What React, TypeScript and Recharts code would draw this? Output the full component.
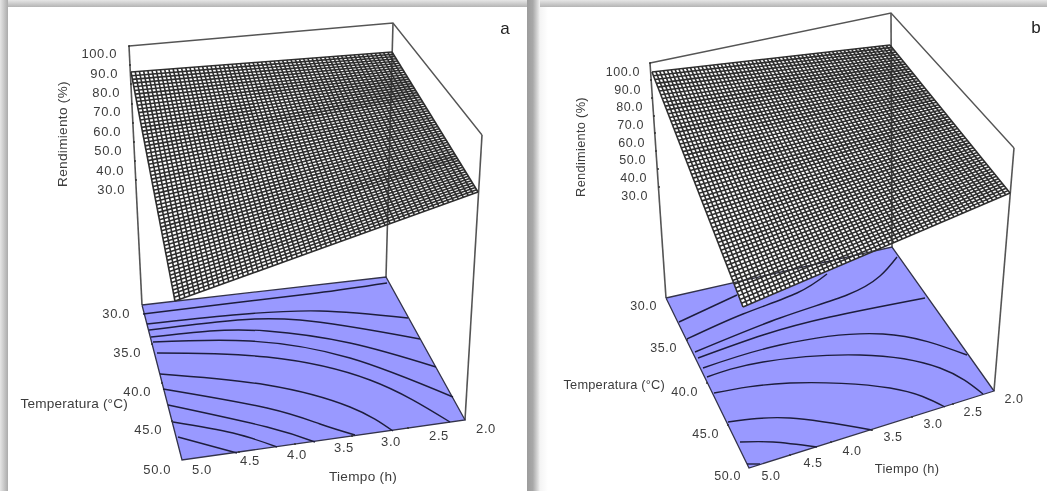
import React from "react";
import { Area, ComposedChart, Line, Scatter, XAxis, YAxis } from "recharts";

const WIDTH = 1047;
const HEIGHT = 491;

type Pt = [number, number];

// chart data is held in picture units: the 3D view is a fixed projection
const boxTopA: Pt[] = [[129, 46], [393, 23], [482, 135]];
const boxVerticalsA: Pt[][] = [
  [[129, 46], [142, 305]],
  [[393, 23], [386, 277]],
  [[482, 135], [465, 420]],
];
const floorA: Pt[] = [[142, 305], [386, 277], [465, 420], [182, 460]];
const surfaceA: Pt[] = [[131, 72], [392, 52], [478, 192], [175, 301]];

const contoursA: Pt[][] = [
  [[143, 314], [233, 303], [317, 293], [387, 283]],
  [[147, 324], [233, 315], [320, 311], [408, 318]],
  [[149, 330], [217, 322], [300, 320], [420, 339]],
  [[151, 337], [210, 331], [267, 331], [350, 343], [436, 367]],
  [[153, 342], [250, 341], [350, 358], [453, 397]],
  [[157, 353], [267, 357], [370, 380], [450, 422]],
  [[160, 374], [267, 385], [350, 407], [393, 431]],
  [[163, 389], [267, 408], [320, 424], [355, 435]],
  [[168, 405], [267, 427], [315, 442]],
  [[173, 422], [233, 433], [277, 447]],
  [[178, 437], [237, 453]],
];

const boxTopB: Pt[] = [[650, 63], [891, 13], [1014, 148]];
const boxVerticalsB: Pt[][] = [
  [[650, 63], [666, 298]],
  [[891, 13], [892, 247]],
  [[1014, 148], [994, 391]],
];
const floorB: Pt[] = [[666, 298], [892, 247], [994, 391], [749, 468]];
const surfaceB: Pt[] = [[652, 72], [890, 45], [1010, 193], [743, 307]];

const contoursB: Pt[][] = [
  [[679, 322], [737, 295]],
  [[687, 339], [743, 314], [797, 293], [827, 274]],
  [[695, 352], [780, 318], [847, 295], [880, 276], [897, 257]],
  [[698, 358], [763, 335], [830, 317], [925, 298]],
  [[703, 368], [780, 345], [883, 334], [967, 355]],
  [[707, 377], [763, 362], [860, 355], [940, 368], [983, 394]],
  [[714, 393], [790, 383], [890, 388], [945, 407]],
  [[728, 422], [790, 418], [872, 430]],
  [[740, 442], [773, 442], [817, 447]],
  [[747, 464], [760, 464]],
];

const zLabels = ["100.0", "90.0", "80.0", "70.0", "60.0", "50.0", "40.0", "30.0"];
const tempLabels = ["30.0", "35.0", "40.0", "45.0", "50.0"];
const timeLabels = ["5.0", "4.5", "4.0", "3.5", "3.0", "2.5", "2.0"];

const zLabelSpotsA: Pt[] = [[117, 53], [118, 73], [120, 92], [121, 111], [121, 131], [122, 150], [124, 170], [125, 189]];
const tempLabelSpotsA: Pt[] = [[130, 313], [141, 352], [151, 391], [162, 429], [171, 469]];
const timeLabelSpotsA: Pt[] = [[202, 469], [250, 460], [297, 454], [344, 447], [391, 441], [439, 435], [486, 428]];

const zLabelSpotsB: Pt[] = [[640, 72], [641, 90], [643, 107], [644, 125], [645, 143], [646, 160], [647, 178], [648, 196]];
const tempLabelSpotsB: Pt[] = [[657, 306], [677, 348], [698, 392], [719, 434], [741, 476]];
const timeLabelSpotsB: Pt[] = [[771, 476], [813, 463], [852, 451], [893, 437], [933, 424], [973, 412], [1014, 399]];

const tickDotsA: Pt[] = [
  [129, 46], [130, 65], [131, 84], [132, 104], [133, 123], [134, 142], [135, 161], [136, 180],
  [152, 344], [162, 383], [172, 421],
  [239, 452], [295, 444], [352, 436], [408, 428],
];
const tickDotsB: Pt[] = [
  [650, 63], [651, 80], [652, 98], [654, 116], [655, 133], [656, 151], [658, 169], [659, 187],
  [687, 340], [707, 383], [728, 425],
  [790, 455], [831, 442], [872, 430], [912, 417], [953, 404],
];

// the wireframe is a regular grid spanned between the surface corners read above,
// the single mesh lines are not read one by one
const MESH_DIVISIONS = 62;

const toRows = (pts: Pt[]) => pts.map(([x, y]) => ({ x, y }));

const mix = (a: Pt, b: Pt, t: number): Pt => [a[0] + (b[0] - a[0]) * t, a[1] + (b[1] - a[1]) * t];

function meshLines([tl, tr, br, bl]: Pt[]): Pt[][] {
  const out: Pt[][] = [];
  for (let i = 0; i <= MESH_DIVISIONS; i++) {
    const t = i / MESH_DIVISIONS;
    out.push([mix(tl, bl, t), mix(tr, br, t)]);
    out.push([mix(tl, tr, t), mix(bl, br, t)]);
  }
  return out;
}

// a polygon as lower/upper bounds at each corner, the form a range Area wants
function polygonBands(poly: Pt[]) {
  const xs = Array.from(new Set(poly.map((p) => p[0]))).sort((a, b) => a - b);
  return xs.map((x) => {
    const ys: number[] = [];
    poly.forEach((p, i) => {
      const q = poly[(i + 1) % poly.length];
      if ((p[0] <= x && x <= q[0]) || (q[0] <= x && x <= p[0])) {
        ys.push(p[0] === q[0] ? p[1] : p[1] + ((q[1] - p[1]) * (x - p[0])) / (q[0] - p[0]));
      }
    });
    return { x, band: [Math.min(...ys), Math.max(...ys)] };
  });
}

const labelRows = (labels: string[], spots: Pt[]) =>
  labels.map((label, i) => ({ x: spots[i][0], y: spots[i][1], label }));

const LABEL_FONT = "'Liberation Sans', Arial, sans-serif";
const TEXT = "#3c3c3c";

const labelShape = (anchor: string, size: number, spacing: number, fill: string, rotate = false) => (p: any) => (
  <text
    x={p.cx}
    y={p.cy}
    textAnchor={anchor as any}
    dominantBaseline="central"
    fontFamily={LABEL_FONT}
    fontSize={size}
    letterSpacing={spacing}
    fill={fill}
    transform={rotate ? `rotate(-90 ${p.cx} ${p.cy})` : undefined}
  >
    {p.payload.label}
  </text>
);

const polyline = (key: string, pts: Pt[], stroke: string, width: number, type: any = "linear") => (
  <Line
    key={key}
    data={toRows(pts)}
    dataKey="y"
    type={type}
    stroke={stroke}
    strokeWidth={width}
    dot={false}
    activeDot={false}
    isAnimationActive={false}
    legendType="none"
  />
);

const polygon = (key: string, poly: Pt[], fill: string) => (
  <Area
    key={key}
    data={polygonBands(poly)}
    dataKey="band"
    type="linear"
    stroke="none"
    fill={fill}
    fillOpacity={1}
    dot={false}
    activeDot={false}
    isAnimationActive={false}
    legendType="none"
  />
);

const labels = (key: string, rows: { x: number; y: number; label: string }[], shape: any) => (
  <Scatter key={key} data={rows} dataKey="y" shape={shape} isAnimationActive={false} legendType="none" />
);

function panel(id: string, p: {
  boxTop: Pt[];
  verticals: Pt[][];
  floor: Pt[];
  surface: Pt[];
  contours: Pt[][];
  ticks: Pt[];
  zSpots: Pt[];
  tempSpots: Pt[];
  timeSpots: Pt[];
  zTitle: Pt;
  tempTitle: Pt;
  timeTitle: Pt;
  letter: string;
  letterAt: Pt;
  tickSize: number;
  titleSize: number;
}) {
  const tick = labelShape("end", p.tickSize, 0.6, TEXT);
  const mid = labelShape("middle", p.tickSize, 0.6, TEXT);
  return [
    polyline(`${id}-top`, p.boxTop, "#555555", 1.4),
    ...p.verticals.map((v, i) => polyline(`${id}-v${i}`, v, "#555555", 1.6)),
    polygon(`${id}-floor`, p.floor, "#9999ff"),
    polyline(`${id}-floor-line`, [...p.floor, p.floor[0]], "#33334a", 1.3),
    ...p.contours.map((c, i) => polyline(`${id}-c${i}`, c, "#1d1d3c", 1.4, "natural")),
    polygon(`${id}-surface`, p.surface, "#ffffff"),
    ...meshLines(p.surface).map((m, i) => polyline(`${id}-m${i}`, m, "#2e2e2e", 1.6)),
    <Scatter
      key={`${id}-ticks`}
      data={toRows(p.ticks)}
      dataKey="y"
      shape={(d: any) => <circle cx={d.cx} cy={d.cy} r={1} fill="#333333" />}
      isAnimationActive={false}
      legendType="none"
    />,
    labels(`${id}-z`, labelRows(zLabels, p.zSpots), tick),
    labels(`${id}-temp`, labelRows(tempLabels, p.tempSpots), tick),
    labels(`${id}-time`, labelRows(timeLabels, p.timeSpots), mid),
    labels(`${id}-zt`, labelRows(["Rendimiento (%)"], [p.zTitle]), labelShape("middle", p.titleSize, 0.3, TEXT, true)),
    labels(`${id}-tt`, labelRows(["Temperatura (°C)"], [p.tempTitle]), labelShape("end", p.titleSize, 0.2, TEXT)),
    labels(`${id}-ht`, labelRows(["Tiempo (h)"], [p.timeTitle]), labelShape("middle", p.titleSize, 0.3, TEXT)),
    labels(`${id}-letter`, labelRows([p.letter], [p.letterAt]), labelShape("middle", 17, 0, "#222222")),
  ];
}

const shade = (style: React.CSSProperties) => <div style={{ position: "absolute", ...style }} />;

export default function App() {
  return (
    <div style={{ position: "absolute", left: 0, top: 0, width: WIDTH, height: HEIGHT, background: "#fff", overflow: "hidden" }}>
      {shade({ left: 0, top: 0, width: WIDTH, height: 7, background: "linear-gradient(#e6e6e6, #b4b4b4)" })}
      {shade({ left: 0, top: 0, width: 8, height: HEIGHT, background: "linear-gradient(90deg, #e6e6e6, #ababab)" })}
      {shade({ left: 527, top: 0, width: 13, height: HEIGHT, background: "linear-gradient(90deg, #9c9c9c 0%, #a8a8a8 45%, #dddddd 85%, #f4f4f4 100%)" })}
      {shade({ left: 540, top: 7, width: 8, height: HEIGHT, background: "linear-gradient(90deg, #f4f4f4, #ffffff)" })}
      <div style={{ position: "absolute", left: 0, top: 0, filter: "blur(0.35px)" }}>
        <ComposedChart width={WIDTH} height={HEIGHT} margin={{ top: 0, right: 0, bottom: 0, left: 0 }}>
          <XAxis type="number" dataKey="x" domain={[0, WIDTH]} hide allowDataOverflow />
          <YAxis type="number" dataKey="y" domain={[0, HEIGHT]} reversed hide allowDataOverflow />
          {panel("a", {
            boxTop: boxTopA,
            verticals: boxVerticalsA,
            floor: floorA,
            surface: surfaceA,
            contours: contoursA,
            ticks: tickDotsA,
            zSpots: zLabelSpotsA,
            tempSpots: tempLabelSpotsA,
            timeSpots: timeLabelSpotsA,
            zTitle: [62, 134],
            tempTitle: [128, 403],
            timeTitle: [363, 476],
            letter: "a",
            letterAt: [505, 28],
            tickSize: 13,
            titleSize: 13.6,
          })}
          {panel("b", {
            boxTop: boxTopB,
            verticals: boxVerticalsB,
            floor: floorB,
            surface: surfaceB,
            contours: contoursB,
            ticks: tickDotsB,
            zSpots: zLabelSpotsB,
            tempSpots: tempLabelSpotsB,
            timeSpots: timeLabelSpotsB,
            zTitle: [580, 147],
            tempTitle: [665, 384],
            timeTitle: [907, 468],
            letter: "b",
            letterAt: [1036, 27],
            tickSize: 12.5,
            titleSize: 12.8,
          })}
        </ComposedChart>
      </div>
    </div>
  );
}
